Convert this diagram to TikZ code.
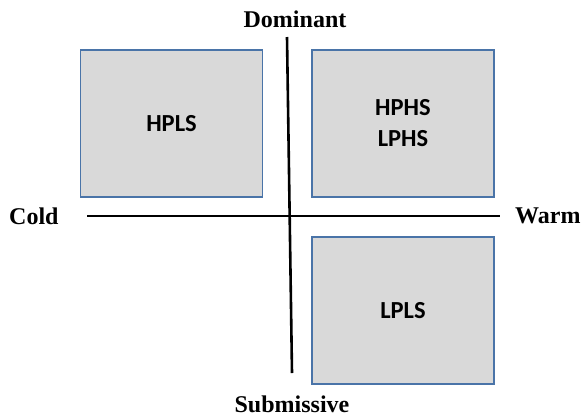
\documentclass[tikz,border=0pt]{standalone}
\usepackage{fontspec}
\setmainfont{Liberation Serif}
\newfontfamily\boxfont{Carlito}
\definecolor{boxgray}{HTML}{D9D9D9}
\definecolor{boxblue}{HTML}{4A74A8}

\tikzstyle{quadbox} = [draw=boxblue, fill=boxgray, line width=1.6pt,
    rectangle, minimum width=182pt, minimum height=147pt, inner sep=0pt,
    font=\boxfont\bfseries\fontsize{24.5}{31}\selectfont, align=center]
\tikzstyle{axislabel} = [font=\bfseries\fontsize{24}{28}\selectfont, inner sep=0pt]
\tikzstyle{axisline} = [line width=2.6pt, black]

\begin{document}
\begin{tikzpicture}[x=1pt,y=-1pt]
\useasboundingbox (0,0) rectangle (583,416);
% quadrant boxes
\node [quadbox] (hpls) at (171.5,123.5) {HPLS};
\node [quadbox] (hphs) at (403,123.5) {HPHS\\LPHS};
\node [quadbox] (lpls) at (403,310.5) {LPLS};
% axes
\coordinate (top) at (287,37);
\coordinate (bottom) at (292,373);
\coordinate (left) at (87,216);
\coordinate (right) at (500,216);
\draw [axisline] (top) -- (bottom);
\draw [axisline] (left) -- (right);
% axis labels
\node [axislabel] (dom) at (295,19) {Dominant};
\node [axislabel] (sub) at (292,404) {Submissive};
\node [axislabel, anchor=west] (cold) at (9,216) {Cold};
\node [axislabel, anchor=west] (warm) at (515,216) {Warm};
\end{tikzpicture}
\end{document}
